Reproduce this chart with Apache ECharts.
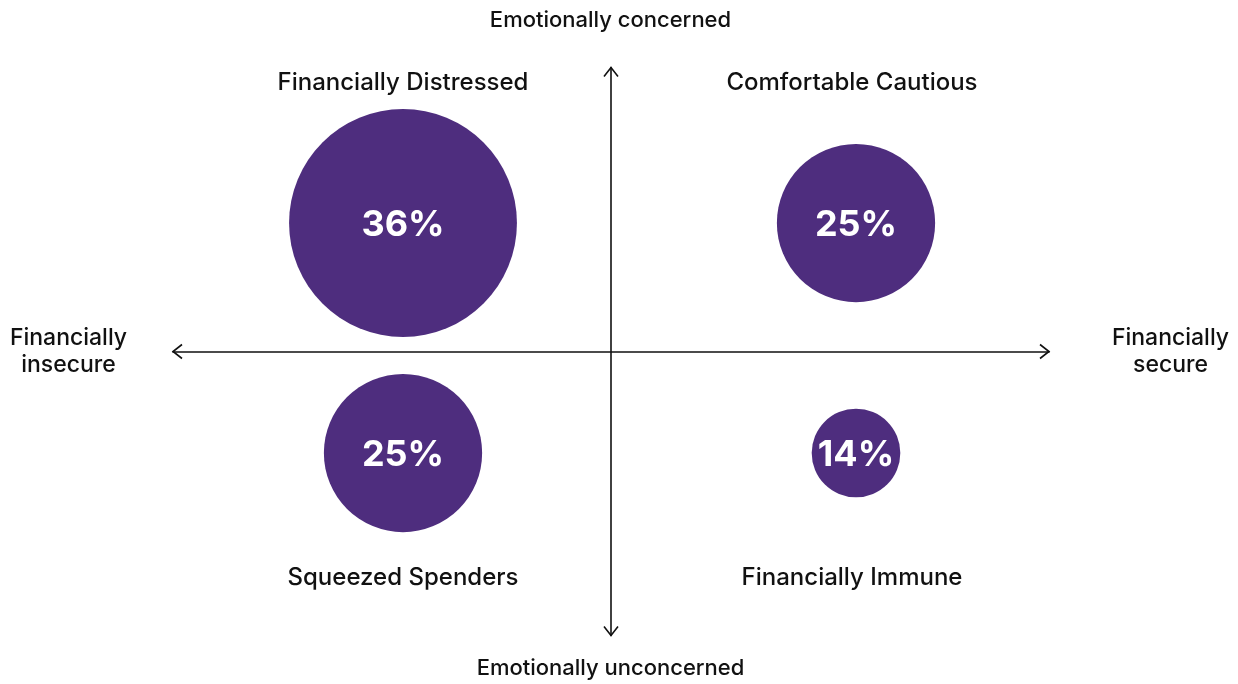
<!DOCTYPE html>
<html>
<head>
<meta charset="utf-8">
<script src="https://cdn.jsdelivr.net/npm/echarts@6/dist/echarts.min.js"></script>
<style>
  html, body { margin: 0; padding: 0; background: #ffffff; }
  #chart { width: 1238px; height: 684px; }
</style>
</head>
<body>
<div id="chart"></div>
<script>
// Segments: column (0 = financially insecure, 1 = secure), row (0 = unconcerned, 1 = concerned)
const segmentNames = ['Financially Distressed', 'Comfortable Cautious', 'Squeezed Spenders', 'Financially Immune'];
const segmentCols = [0, 1, 0, 1];
const segmentRows = [1, 1, 0, 0];
const segmentShares = [36, 25, 25, 14];

const colCategories = ['Financially insecure', 'Financially secure'];
const rowCategories = ['Emotionally unconcerned', 'Emotionally concerned'];

const FONT = 'Inter, "Noto Sans", sans-serif';
const PURPLE = '#4e2d7e';
const INK = '#111111';
const PX_PER_POINT = 6.33;   // bubble diameter per percentage point

const bubbleData = segmentNames.map((name, i) => ({
  name: name,
  value: [segmentCols[i], segmentRows[i], segmentShares[i]]
}));

const nameData = segmentNames.map((name, i) => ({
  name: name,
  value: [segmentCols[i], segmentRows[i]],
  label: {
    offset: [segmentCols[i] === 1 ? -4 : 0, segmentRows[i] === 1 ? -140 : 125]
  }
}));

const chart = echarts.init(document.getElementById('chart'), null, { renderer: 'canvas' });

const hiddenAxis = {
  axisLine: { show: false }, axisTick: { show: false },
  axisLabel: { show: false }, splitLine: { show: false }
};

chart.setOption({
  animation: false,
  backgroundColor: '#ffffff',
  grid: [
    // crossing axes
    { left: 173, right: 189, top: 67.5, bottom: 48.5 },
    // quadrant bubbles
    { left: 176.5, right: 155.5, top: 108, bottom: 116 }
  ],
  xAxis: [
    {
      gridIndex: 0, type: 'value', min: -1, max: 1,
      axisLine: { show: true, onZero: true, lineStyle: { color: INK, width: 1.6 } },
      axisTick: { show: false }, axisLabel: { show: false }, splitLine: { show: false }
    },
    Object.assign({ gridIndex: 1, type: 'category', data: colCategories, boundaryGap: true }, hiddenAxis)
  ],
  yAxis: [
    {
      gridIndex: 0, type: 'value', min: -1, max: 1,
      axisLine: { show: true, onZero: true, lineStyle: { color: INK, width: 1.6 } },
      axisTick: { show: false }, axisLabel: { show: false }, splitLine: { show: false }
    },
    Object.assign({ gridIndex: 1, type: 'category', data: rowCategories, boundaryGap: true }, hiddenAxis)
  ],
  graphic: [
    { type: 'text', x: 610.5, y: 20, style: { text: rowCategories[1], font: '500 22px ' + FONT, fill: INK, align: 'center', verticalAlign: 'middle' } },
    { type: 'text', x: 610.5, y: 668, style: { text: rowCategories[0], font: '500 22px ' + FONT, fill: INK, align: 'center', verticalAlign: 'middle' } },
    { type: 'text', x: 68.5, y: 352, style: { text: 'Financially\ninsecure', font: '500 23px ' + FONT, fill: INK, align: 'center', verticalAlign: 'middle', lineHeight: 27 } },
    { type: 'text', x: 1170.5, y: 352, style: { text: 'Financially\nsecure', font: '500 23px ' + FONT, fill: INK, align: 'center', verticalAlign: 'middle', lineHeight: 27 } }
  ],
  series: [
    {
      // open chevrons at the four ends of the axes
      type: 'custom',
      xAxisIndex: 0, yAxisIndex: 0,
      silent: true,
      data: [[1, 0, 0], [-1, 0, 1], [0, 1, 2], [0, -1, 3]],
      renderItem: function (params, api) {
        const p = api.coord([api.value(0), api.value(1)]);
        const L = 9, H = 7;
        const dir = api.value(2);
        let pts;
        if (dir === 0) pts = [[p[0] - L, p[1] - H], p, [p[0] - L, p[1] + H]];
        else if (dir === 1) pts = [[p[0] + L, p[1] - H], p, [p[0] + L, p[1] + H]];
        else if (dir === 2) pts = [[p[0] - H, p[1] + L], p, [p[0] + H, p[1] + L]];
        else pts = [[p[0] - H, p[1] - L], p, [p[0] + H, p[1] - L]];
        return {
          type: 'polyline',
          shape: { points: pts },
          style: { stroke: INK, lineWidth: 1.6, fill: null }
        };
      }
    },
    {
      type: 'scatter',
      xAxisIndex: 1, yAxisIndex: 1,
      data: bubbleData,
      symbol: 'circle',
      symbolSize: function (v) { return v[2] * PX_PER_POINT; },
      itemStyle: { color: PURPLE, opacity: 1 },
      label: {
        show: true, position: 'inside', offset: [0, 2],
        formatter: function (p) { return p.value[2] + '%'; },
        color: '#ffffff', fontFamily: FONT, fontWeight: 700, fontSize: 36
      },
      emphasis: { disabled: true }
    },
    {
      type: 'scatter',
      xAxisIndex: 1, yAxisIndex: 1,
      data: nameData,
      symbolSize: 0,
      itemStyle: { opacity: 1 },
      label: {
        show: true, position: 'inside',
        formatter: '{b}',
        color: INK, fontFamily: FONT, fontWeight: 500, fontSize: 24
      },
      emphasis: { disabled: true }
    }
  ]
});
</script>
</body>
</html>
